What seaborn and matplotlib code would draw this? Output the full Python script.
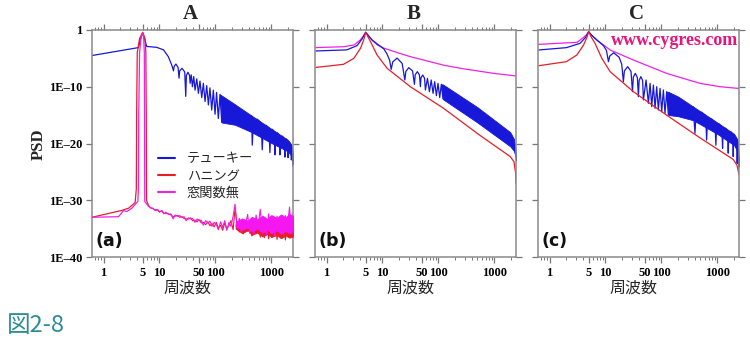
import matplotlib
matplotlib.use("Agg")
import matplotlib.pyplot as plt
import seaborn as sns
import numpy as np
import pandas as pd
from matplotlib.lines import Line2D
from matplotlib.ticker import FixedLocator, FixedFormatter, NullFormatter, NullLocator

sns.set_theme(style="white")
plt.rcParams['font.family'] = ['Liberation Serif', 'Noto Sans CJK JP', 'DejaVu Sans']

C_TUKEY = '#1818d8'
C_HANN = '#e61e28'
C_NONE = '#ee22e6'
C_NOISE = '#f516f0'
SERIF = 'Liberation Serif'
CJK = 'Noto Sans CJK JP'

# ---------------- data: frequency and log10(PSD) ----------------
series_labels = ['テューキー', 'ハニング', '窓関数無']
panel_titles = ['A', 'B', 'C']
panel_tags = ['(a)', '(b)', '(c)']
xt_major = [1, 5, 10, 50, 100, 1000]
xt_labels = ['1', '5', '10', '50', '100', '1000']
xt_minor = [0.7, 0.8, 0.9, 2, 3, 4, 6, 7, 8, 9, 20, 30, 40, 60, 70, 80, 90,
            200, 300, 400, 500, 600, 700, 800, 900, 2000]
yt_major = [1e-40, 1e-30, 1e-20, 1e-10, 1]
yt_labels = ['1E–40', '1E–30', '1E–20', '1E–10', '1']

# Panel A - Tukey
a_tukey_f = [0.62, 4.2, 4.6, 5.0, 5.4, 5.9, 8.9, 11.8, 14.4, 16.6, 17.8, 18.3, 19.7, 21.5, 22.4, 23.0,
             25.3, 28.3, 29.5, 30.3, 32.3, 34.5, 35.3, 37, 38.8, 41, 43.3, 46.5, 49.7, 53, 57, 61,
             65.4, 70, 75, 80, 86, 92, 98.7, 105, 113, 121, 130]
a_tukey_e = [-4.5, -3.1, -1.5, -0.5, -1.5, -2.9, -3.05, -3.5, -4.7, -6.2, -7.2, -6.4, -6.0, -6.6, -8.5, -7.2,
             -6.75, -7.4, -11.7, -8.0, -7.45, -8.0, -9.4, -7.9, -10.0, -8.2, -10.6, -8.6, -11.15, -9.0,
             -11.9, -9.4, -12.6, -9.8, -13.2, -10.2, -14.1, -10.6, -14.85, -11.0, -15.6, -11.35, -16.3]
a_tukey_band_f = [121, 130, 225, 446, 1000, 2000, 2300, 2450]
a_tukey_band_hi = [-11.35, -11.55, -13.1, -15.1, -17.4, -19.4, -20.2, -22.0]
a_tukey_band_lo = [-11.6, -16.3, -16.7, -18.0, -19.9, -21.4, -22.2, -23.6]
a_tukey_tail_f = [446, 457, 477, 560, 660, 690, 718, 810, 908, 946, 975, 1050, 1130, 1162, 1195, 1290,
                  1390, 1428, 1470, 1590, 1700, 1754, 1790, 1870, 1960, 2000, 2040, 2140, 2250, 2290,
                  2330, 2450]
a_tukey_tail_e = [-15.1, -20.3, -16.6, -15.7, -16.4, -21.1, -17.5, -16.8, -17.3, -21.6, -18.1, -17.5,
                  -18.0, -22.0, -18.7, -18.1, -18.6, -22.0, -19.2, -18.7, -19.2, -22.4, -19.6, -19.2,
                  -19.7, -22.5, -20.2, -19.9, -20.5, -22.9, -21.0, -24.0]

# Panel A - Hanning / no window (peak at 5 and numerical noise floor)
a_hann_peak_f = [0.62, 2.1, 2.8, 3.67, 3.85, 3.9, 4.0, 4.4, 5.0, 5.5, 5.7, 5.8, 5.86, 6.4]
a_hann_peak_e = [-33.0, -31.8, -31.4, -30.4, -28.0, -15.0, -4.0, -1.5, -0.4, -1.5, -4.0, -15.0, -30.0, -31.0]
a_none_peak_f = [0.62, 1.85, 2.28, 2.6, 3.2, 4.1, 4.2, 4.25, 4.4, 4.7, 5.0, 5.2, 5.35, 5.4, 5.45, 6.4]
a_none_peak_e = [-33.0, -32.9, -31.8, -32.0, -31.4, -30.2, -28.0, -15.0, -4.0, -1.2, -0.6, -1.2, -4.0, -15.0,
                 -30.2, -31.1]
noise_f = [6.4, 7, 7.6, 8.4, 9.2, 10, 11, 12, 13, 14.5, 16, 17.5, 19, 21, 23, 25, 27.5, 30, 33, 36,
           39, 43, 47, 51, 56, 61, 67, 73, 80, 87, 95, 104, 113, 124, 135, 147, 160, 175, 190, 208,
           225, 245, 268, 292, 318, 347, 378, 412, 450, 490, 535, 583, 635, 693, 755, 823, 897, 978,
           1066, 1162, 1267, 1381, 1505, 1640, 1788, 1949, 2124, 2315, 2450]
a_none_noise_e = [-31.1, -31.3, -31.5, -31.7, -31.6, -32.0, -31.9, -32.4, -32.1, -32.5,
                  -32.4, -33.3, -32.6, -32.8, -32.7, -33.0, -32.9, -33.6, -33.1, -33.3,
                  -33.2, -33.9, -33.3, -33.6, -33.5, -34.4, -33.6, -34.0, -33.7, -34.6,
                  -33.9, -34.3, -35.2, -33.8, -34.8, -33.6, -35.3, -33.9, -34.6, -32.8,
                  -30.7, -34.9, -33.2, -35.6, -33.4, -34.3, -32.5, -35.8, -33.7, -36.0,
                  -32.6, -34.8, -31.6, -35.5, -33.3, -36.2, -32.4, -35.0, -33.9, -36.3,
                  -32.8, -35.4, -33.2, -36.1, -32.7, -34.6, -31.2, -35.9, -32.5]
a_hann_noise_e = [-31.0, -31.4, -31.4, -31.8, -31.7, -32.1, -31.8, -32.3, -32.3, -32.4,
                  -32.6, -32.9, -32.8, -32.7, -33.0, -32.9, -33.2, -33.3, -33.3, -33.1,
                  -33.6, -33.5, -33.8, -33.4, -34.0, -33.9, -34.3, -33.8, -34.5, -34.1,
                  -34.7, -33.9, -34.9, -34.4, -35.3, -34.0, -35.0, -34.5, -33.6, -35.2,
                  -31.5, -34.2, -35.6, -33.8, -35.9, -33.6, -35.4, -34.0, -36.3, -34.2,
                  -35.9, -33.4, -36.5, -34.0, -36.6, -33.8, -36.8, -34.1, -36.4, -33.7,
                  -36.9, -34.5, -36.7, -33.9, -37.0, -34.8, -36.2, -33.6, -36.5]
noise_band_f = [230, 300, 380, 450, 560, 700, 850, 1000, 1250, 1500, 1800, 2100, 2450]
a_none_band_hi = [-33.8, -33.2, -33.6, -32.9, -33.4, -32.7, -33.3, -32.6, -33.1, -32.5, -33.0, -32.4, -32.8]
a_none_band_lo = [-34.6, -35.2, -34.8, -35.5, -35.0, -35.7, -35.2, -35.8, -35.3, -35.9, -35.4, -35.8, -35.6]
a_hann_band_hi = [-34.2, -33.7, -34.0, -33.5, -33.9, -33.3, -33.8, -33.2, -33.7, -33.1, -33.6, -33.0, -33.5]
a_hann_band_lo = [-35.0, -35.8, -35.3, -36.1, -35.7, -36.4, -35.9, -36.5, -36.1, -36.7, -36.2, -36.6, -36.4]

# Panel B
b_none_f = [0.64, 2.0, 3.1, 4.0, 4.6, 5.0, 5.6, 6.5, 8.0, 10.6, 20, 31.6, 60, 124, 250, 490, 1000, 2450]
b_none_e = [-3.1, -2.95, -2.64, -1.76, -1.0, -0.4, -1.0, -1.76, -2.6, -3.2, -4.1, -4.7, -5.4, -6.2, -6.75,
            -7.2, -7.65, -8.1]
b_tukey_f = [0.64, 2.3, 3.5, 4.3, 5.0, 5.6, 6.5, 10.6, 12.0, 13.4, 14.3, 15.3, 18.3, 22.5, 25.1, 26.2,
             29.5, 34.5, 37.3, 38.5, 42, 45.8, 47.7, 48.9, 52.5, 56.6, 58.6, 63.8, 69.1, 74.5, 80.3,
             86, 92.1, 98.6, 105.6, 113, 121]
b_tukey_e = [-3.7, -3.5, -2.76, -1.6, -0.4, -1.0, -1.76, -3.35, -4.2, -5.3, -6.93, -5.6, -4.95, -5.9,
             -8.81, -7.3, -6.64, -7.2, -9.57, -7.9, -7.34, -7.9, -9.99, -8.4, -7.93, -8.5, -10.57, -8.52,
             -10.87, -8.81, -11.16, -9.1, -11.57, -9.4, -11.92, -9.57, -12.16]
b_tukey_band_f = [113, 121, 500, 1930, 2250, 2400, 2450]
b_tukey_band_hi = [-9.57, -9.6, -13.6, -18.0, -19.2, -21.0, -22.8]
b_tukey_band_lo = [-9.8, -12.2, -16.3, -20.5, -21.3, -22.3, -23.0]
b_hann_f = [0.64, 2.0, 3.07, 4.05, 4.6, 5.0, 5.5, 6.1, 8.0, 12.1, 31.6, 124, 560, 1930, 2250, 2400, 2450]
b_hann_e = [-6.6, -6.05, -5.0, -3.2, -1.8, -0.4, -1.2, -2.05, -4.4, -6.75, -10.0, -13.8, -18.6, -22.3,
            -23.2, -25.0, -27.0]

# Panel C
c_none_f = [0.64, 3.1, 4.0, 4.6, 5.0, 5.6, 7.0, 12.1, 31.6, 124, 490, 1117, 2450]
c_none_e = [-2.53, -2.17, -1.35, -0.8, -0.3, -0.9, -1.76, -3.52, -5.29, -7.64, -9.4, -9.99, -10.3]
c_tukey_f = [0.64, 2.0, 3.5, 4.4, 5.0, 5.7, 7.0, 9.2, 10.4, 11.3, 11.9, 14.0, 17.5, 19.5, 20.9, 21.8,
             25.0, 28.6, 30.4, 31.5, 34.2, 37.2, 38.8, 40.0, 42.9, 46.2, 47.7, 53.2, 58.6, 62.8, 67.2,
             72, 77.1, 82.5, 88.4, 94.7, 101.4, 108.6, 116.2, 124.5, 133.4]
c_tukey_e = [-3.52, -3.11, -2.35, -1.3, -0.3, -0.95, -1.76, -2.76, -3.6, -5.58, -4.6, -4.0, -4.8, -6.0,
             -9.1, -7.2, -6.46, -7.3, -10.87, -8.3, -7.64, -8.4, -11.75, -8.9, -8.22, -8.9, -12.33,
             -8.81, -12.92, -9.4, -13.51, -9.69, -13.8, -9.99, -14.1, -10.28, -14.39, -10.57, -14.68,
             -10.87, -14.98]
c_tukey_band_f = [124.5, 133.4, 200, 370, 1000, 2000, 2300, 2450]
c_tukey_band_hi = [-10.87, -10.9, -11.73, -13.49, -16.3, -18.3, -19.3, -23.0]
c_tukey_band_lo = [-11.1, -14.98, -15.2, -15.9, -18.3, -20.3, -21.4, -24.0]
c_tukey_tail_f = [370, 399, 415, 525, 620, 645, 668, 795, 910, 946, 972, 1086, 1205, 1245, 1275, 1410,
                  1530, 1572, 1605, 1754, 1890, 1930, 1965, 2095, 2235, 2275, 2310, 2450]
c_tukey_tail_e = [-13.49, -18.2, -15.2, -14.48, -15.1, -19.4, -16.2, -15.67, -16.3, -20.3, -17.1, -16.56,
                  -17.1, -20.85, -17.9, -17.3, -17.8, -21.7, -18.5, -17.93, -18.5, -22.3, -19.4, -19.0,
                  -19.6, -23.5, -20.5, -24.5]
c_hann_f = [0.64, 2.0, 3.07, 4.05, 4.6, 5.0, 5.6, 6.5, 8.6, 12.1, 31.6, 124, 490, 1930, 2250, 2450]
c_hann_e = [-6.29, -5.58, -4.41, -2.64, -1.4, -0.3, -1.3, -2.35, -4.99, -7.34, -10.87, -15.0, -19.0,
            -22.8, -23.8, -25.5]


# ---------------- drawing helpers ----------------
def line(ax, f, e, color, lw=0.9, z=2):
    df = pd.DataFrame({'f': f, 'psd': np.power(10.0, np.asarray(e, dtype=float))})
    sns.lineplot(data=df, x='f', y='psd', ax=ax, color=color, lw=lw, sort=False,
                 estimator=None, legend=False, zorder=z)


def band(ax, f, lo, hi, color, z=2):
    ax.fill_between(f, np.power(10.0, np.asarray(lo, dtype=float)),
                    np.power(10.0, np.asarray(hi, dtype=float)),
                    color=color, lw=0.6, edgecolor=color, zorder=z)


def style(ax, show_y):
    ax.set_xscale('log')
    ax.set_yscale('log')
    ax.set_xlim(0.62, 2450)
    ax.set_ylim(1e-40, 1)
    ax.xaxis.set_major_locator(FixedLocator(xt_major))
    ax.xaxis.set_major_formatter(FixedFormatter(xt_labels))
    ax.xaxis.set_minor_locator(FixedLocator(xt_minor))
    ax.xaxis.set_minor_formatter(NullFormatter())
    ax.yaxis.set_major_locator(FixedLocator(yt_major))
    ax.yaxis.set_minor_locator(NullLocator())
    if show_y:
        ax.yaxis.set_major_formatter(FixedFormatter(yt_labels))
    else:
        ax.yaxis.set_major_formatter(NullFormatter())
    ax.tick_params(which='both', direction='out', top=True, right=True, bottom=True, left=True,
                   color='#777777')
    ax.tick_params(which='major', length=4, width=0.9, labelsize=9, pad=3, labelcolor='black')
    ax.tick_params(which='minor', length=2.5, width=0.7)
    for lab in ax.get_xticklabels() + ax.get_yticklabels():
        lab.set_fontweight('bold')
        lab.set_family(SERIF)
    for sp in ax.spines.values():
        sp.set_color('#8a8a8a')
        sp.set_linewidth(1.1)
    ax.set_xlabel('')
    ax.set_ylabel('')
    ax.grid(False)


fig = plt.figure(figsize=(7.5, 3.44), dpi=100)
fig.patch.set_facecolor('white')
lefts_px = [92, 315, 538]
axes = [fig.add_axes([lp / 750, 1 - 257 / 344, 201 / 750, 227 / 344]) for lp in lefts_px]

# Panel A
ax = axes[0]
band(ax, a_tukey_band_f, a_tukey_band_lo, a_tukey_band_hi, C_TUKEY)
line(ax, a_tukey_f, a_tukey_e, C_TUKEY)
line(ax, a_tukey_tail_f, a_tukey_tail_e, C_TUKEY)
band(ax, noise_band_f, a_hann_band_lo, a_hann_band_hi, C_HANN, z=3)
line(ax, a_hann_peak_f, a_hann_peak_e, C_HANN, z=3)
line(ax, noise_f, a_hann_noise_e, C_HANN, lw=0.8, z=3)
band(ax, noise_band_f, a_none_band_lo, a_none_band_hi, C_NOISE, z=4)
line(ax, a_none_peak_f, a_none_peak_e, C_NONE, z=4)
line(ax, noise_f, a_none_noise_e, C_NOISE, lw=0.8, z=4)

# Panel B
ax = axes[1]
line(ax, b_none_f, b_none_e, C_NONE)
band(ax, b_tukey_band_f, b_tukey_band_lo, b_tukey_band_hi, C_TUKEY)
line(ax, b_tukey_f, b_tukey_e, C_TUKEY)
line(ax, b_hann_f, b_hann_e, C_HANN)

# Panel C
ax = axes[2]
line(ax, c_none_f, c_none_e, C_NONE)
band(ax, c_tukey_band_f, c_tukey_band_lo, c_tukey_band_hi, C_TUKEY)
line(ax, c_tukey_f, c_tukey_e, C_TUKEY)
line(ax, c_tukey_tail_f, c_tukey_tail_e, C_TUKEY)
line(ax, c_hann_f, c_hann_e, C_HANN)

for i, ax in enumerate(axes):
    style(ax, i == 0)
    ax.text(0.015, 0.03, panel_tags[i], transform=ax.transAxes, ha='left', va='bottom',
            fontsize=12.5, fontweight='bold', family='DejaVu Sans', color='#111111', zorder=6)
    cx = (lefts_px[i] + 100.5 - 2) / 750
    fig.text(cx, 1 - 14 / 344, panel_titles[i], ha='center', va='center', fontsize=15,
             fontweight='bold', family=SERIF)
    fig.text((lefts_px[i] + 100.5 - 5) / 750, 1 - 288 / 344, '周波数', ha='center', va='center',
             fontsize=11.5, family=[CJK, 'DejaVu Sans'])

fig.text(39 / 750, 1 - 144 / 344, 'PSD', rotation=90, ha='center', va='center', fontsize=12,
         fontweight='bold', family=SERIF)

# legend (panel A)
handles = [Line2D([], [], color=c, lw=1.5) for c in (C_TUKEY, C_HANN, C_NONE)]
leg = axes[0].legend(handles, series_labels, loc='upper left', bbox_to_anchor=(0.3, 0.484),
                     frameon=False, handlelength=1.3, handletextpad=0.9, labelspacing=0.3,
                     prop={'family': CJK, 'size': 9.5}, borderaxespad=0.0)

axes[2].text(0.995, 0.99, 'www.cygres.com', transform=axes[2].transAxes, ha='right', va='top',
             fontsize=13, fontweight='bold', family=SERIF, color='#e8137c', zorder=6)

fig.text(7 / 750, 1 - 325 / 344, '図2-8', ha='left', va='center', fontsize=17,
         family=[CJK, 'DejaVu Sans'], color='#2b8c94')

fig.savefig('out.png', dpi=100, facecolor='white')
